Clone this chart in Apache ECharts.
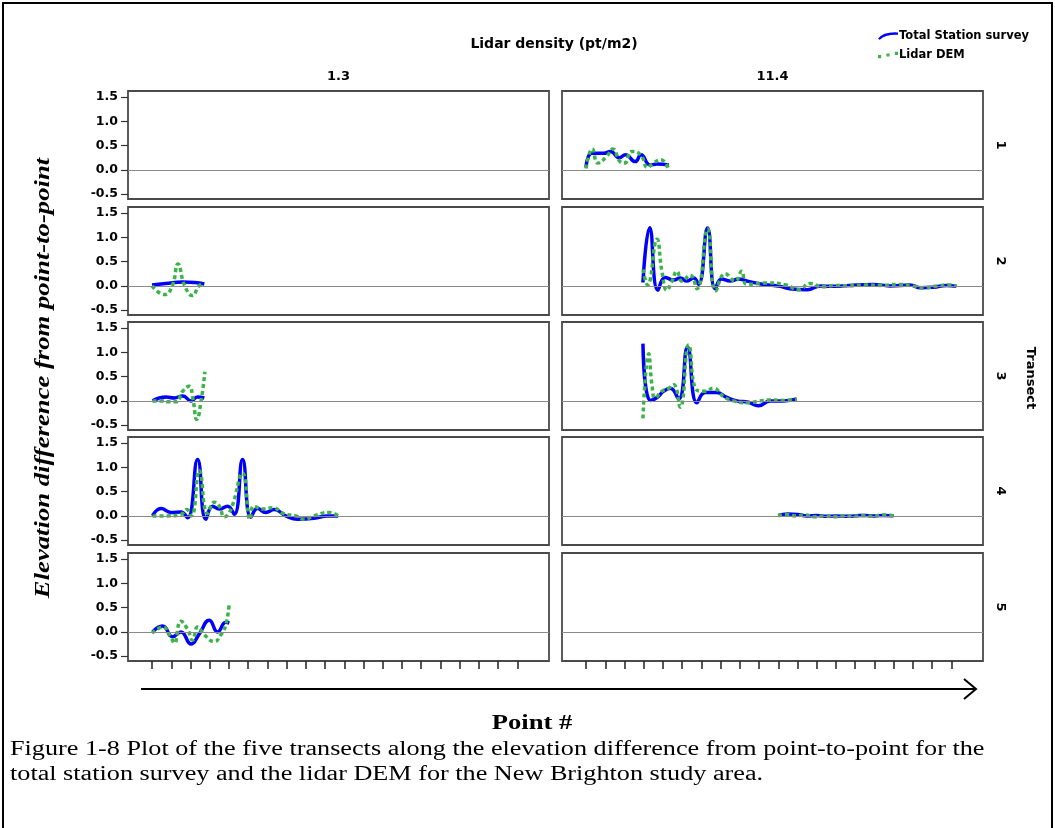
<!DOCTYPE html>
<html>
<head>
<meta charset="utf-8">
<script src="https://cdn.jsdelivr.net/npm/echarts@6/dist/echarts.min.js"></script>
<style>
  html, body { margin: 0; padding: 0; background: #fff; }
  #chart { width: 1055px; height: 828px; }
</style>
</head>
<body>
<div id="chart"></div>
<script>
// x = point position in tick units (one unit per axis tick), y = elevation difference
const densities = ['1.3', '11.4']
const transects = ['1', '2', '3', '4', '5']
const yTicks = [-0.5, 0, 0.5, 1.0, 1.5]
const xTicks = [0, 1, 2, 3, 4, 5, 6, 7, 8, 9, 10, 11, 12, 13, 14, 15, 16, 17, 18, 19]

// transect 1
const station_t1_114 = [[0, 0.05], [0.31, 0.34], [0.92, 0.34], [1.27, 0.38], [1.73, 0.25], [2.05, 0.31], [2.56, 0.17], [2.86, 0.31], [3.34, 0.10], [3.69, 0.12], [4.3, 0.10]]
const dem_t1_114 = [[0, 0.03], [0.33, 0.43], [0.62, 0.14], [1.06, 0.27], [1.4, 0.43], [1.75, 0.18], [2.0, 0.14], [2.37, 0.38], [2.84, 0.31], [3.2, 0.05], [3.5, 0.14], [3.9, 0.21], [4.3, 0.0]]

// transect 2
const station_t2_13 = [[0, 0.02], [0.7, 0.05], [1.6, 0.08], [2.2, 0.07], [2.72, 0.04]]
const dem_t2_13 = [[0, 0.0], [0.65, -0.18], [1.05, 0.0], [1.35, 0.45], [1.7, 0.0], [2.1, -0.2], [2.45, 0.0], [2.72, 0.05]]
const station_t2_114 = [[2.96, 0.07], [3.31, 1.2], [3.74, -0.09], [4.12, 0.17], [4.56, 0.12], [4.9, 0.16], [5.25, 0.1], [5.6, 0.16], [5.85, 0.03], [6.32, 1.19], [6.72, -0.06], [7.06, 0.14], [7.5, 0.1], [7.93, 0.14], [8.36, 0.1], [9.23, 0.03], [10.1, -0.01], [10.6, -0.06], [11.5, -0.08], [12.2, 0.0], [12.7, -0.01], [13.4, 0.0], [14.95, 0.03], [15.8, 0.0], [16.85, 0.02], [17.4, -0.04], [18.06, -0.03], [18.75, 0.01], [19.27, -0.01]]
const dem_t2_114 = [[2.96, 0.34], [3.2, 0.02], [3.69, 0.96], [3.95, 0.3], [4.21, -0.09], [4.47, 0.1], [4.73, 0.3], [4.99, 0.1], [5.42, 0.22], [5.77, -0.06], [6.32, 1.17], [6.75, -0.1], [7.24, 0.25], [7.76, 0.1], [8.1, 0.3], [8.36, 0.03], [9.4, 0.06], [10.4, 0.02], [11.05, -0.08], [11.66, 0.05], [12.3, -0.02], [13.0, 0.01], [13.6, 0.0], [14.5, 0.02], [15.3, 0.01], [16.2, 0.03], [17.0, 0.0], [17.6, -0.04], [18.3, 0.0], [18.9, 0.02], [19.27, 0.0]]

// transect 3
const station_t3_13 = [[0.03, 0], [0.73, 0.08], [1.16, 0.06], [1.6, 0.1], [2.03, 0.0], [2.37, 0.08], [2.72, 0.06]]
const dem_t3_13 = [[0.03, 0], [0.56, 0.0], [0.81, -0.02], [1.25, -0.02], [1.6, 0.2], [1.94, 0.3], [2.11, 0.08], [2.33, -0.38], [2.57, 0.05], [2.75, 0.6]]
const station_t3_114 = [[2.96, 1.18], [3.34, 0.01], [3.69, 0.07], [4.04, 0.2], [4.38, 0.26], [4.82, 0.04], [5.28, 1.11], [5.77, -0.04], [6.2, 0.17], [6.8, 0.17], [7.33, 0.07], [7.84, 0.0], [8.45, -0.03], [8.97, -0.1], [9.58, 0.0], [10.27, 0.0], [10.96, 0.04]]
const dem_t3_114 = [[2.96, -0.36], [3.26, 0.97], [3.43, 0.33], [3.6, 0.06], [3.95, 0.2], [4.3, 0.26], [4.56, 0.33], [4.9, -0.13], [5.34, 1.15], [5.77, 0.22], [6.2, 0.2], [6.63, 0.26], [7.15, 0.09], [7.67, 0.0], [8.36, -0.04], [9.06, 0.0], [9.6, 0.02], [10.3, 0.01], [10.96, 0.04]]

// transect 4
const station_t4_13 = [[0.03, 0], [0.47, 0.15], [0.99, 0.07], [1.5, 0.08], [1.85, -0.04], [2.37, 1.16], [2.8, -0.07], [3.15, 0.2], [3.5, 0.14], [3.93, 0.2], [4.28, 0.03], [4.71, 1.16], [5.14, -0.03], [5.49, 0.15], [5.92, 0.07], [6.35, 0.13], [6.96, 0.0], [7.57, -0.07], [8.43, -0.05], [9.12, 0.0], [9.68, 0.0]]
const dem_t4_13 = [[0.03, 0], [0.8, 0.0], [1.5, 0.03], [1.8, 0.13], [2.05, 0.0], [2.46, 0.93], [2.89, 0.05], [3.24, 0.28], [3.5, 0.2], [3.76, -0.02], [4.1, 0.13], [4.71, 0.88], [5.1, -0.07], [5.3, 0.2], [5.75, 0.14], [6.27, 0.17], [6.87, 0.04], [7.48, 0.0], [7.91, -0.07], [8.43, 0.0], [9.2, 0.07], [9.68, 0.0]]
const station_t4_114 = [[10.0, 0.01], [10.5, 0.04], [11.0, 0.03], [11.5, 0.0], [12.0, 0.01], [12.5, -0.01], [13.0, 0.0], [13.5, -0.01], [14.0, 0.0], [14.5, 0.01], [15.0, 0.0], [15.5, 0.01], [16.0, 0.0]]
const dem_t4_114 = [[10.0, 0.0], [10.4, 0.03], [10.9, 0.0], [11.4, 0.02], [11.9, -0.02], [12.4, 0.0], [12.9, -0.02], [13.4, 0.0], [13.9, -0.01], [14.4, 0.01], [14.9, -0.01], [15.4, 0.02], [16.0, 0.0]]

// transect 5
const station_t5_13 = [[0.03, 0.0], [0.55, 0.12], [1.07, -0.1], [1.5, 0.0], [2.03, -0.25], [2.46, -0.04], [2.98, 0.24], [3.41, 0.0], [3.84, 0.2], [4.02, 0.18]]
const dem_t5_13 = [[0.0, -0.03], [0.55, 0.1], [1.0, -0.13], [1.16, -0.23], [1.5, 0.22], [1.85, 0.05], [2.11, -0.17], [2.37, 0.1], [2.72, -0.06], [3.24, -0.2], [3.58, -0.06], [3.84, 0.15], [4.02, 0.6]]

// rows = transects, columns = densities
const stationByPanel = [
  [[], station_t1_114],
  [station_t2_13, station_t2_114],
  [station_t3_13, station_t3_114],
  [station_t4_13, station_t4_114],
  [station_t5_13, []]
]
const demByPanel = [
  [[], dem_t1_114],
  [dem_t2_13, dem_t2_114],
  [dem_t3_13, dem_t3_114],
  [dem_t4_13, dem_t4_114],
  [dem_t5_13, []]
]

const colLeft = [128, 562]
const colWidth = 421
const rowTop = [91, 207, 322, 437, 553]
const rowHeight = 108

const sansBold = 'bold 13px DejaVu Sans, Liberation Sans'

const chart = echarts.init(document.getElementById('chart'))

const grids = []
const xAxes = []
const yAxes = []
const series = []
const graphics = []

transects.forEach((t, r) => {
  densities.forEach((d, c) => {
    const idx = grids.length
    const isBottom = r === transects.length - 1
    grids.push({
      left: colLeft[c],
      top: rowTop[r],
      width: colWidth,
      height: rowHeight,
      show: true,
      borderColor: '#4a4a4a',
      borderWidth: 1.8
    })
    xAxes.push({
      gridIndex: idx,
      type: 'value',
      min: -1.25,
      max: 20.65,
      axisLine: { show: false, onZero: false },
      splitLine: { show: false },
      axisLabel: { show: false },
      axisTick: {
        show: isBottom,
        customValues: xTicks,
        length: 8,
        lineStyle: { color: '#222', width: 1.5 }
      }
    })
    yAxes.push({
      gridIndex: idx,
      type: 'value',
      min: -0.6,
      max: 1.625,
      axisLine: { show: false, onZero: false },
      splitLine: { show: false },
      axisTick: {
        show: c === 0,
        customValues: yTicks,
        length: 7,
        lineStyle: { color: '#333', width: 1.2 }
      },
      axisLabel: {
        show: c === 0,
        customValues: yTicks,
        margin: 10,
        formatter: v => v.toFixed(1),
        fontFamily: 'DejaVu Sans',
        fontWeight: 'bold',
        fontSize: 12.5,
        color: '#000'
      }
    })
    // zero reference line
    series.push({
      type: 'line',
      xAxisIndex: idx,
      yAxisIndex: idx,
      data: [],
      silent: true,
      markLine: {
        silent: true,
        symbol: 'none',
        label: { show: false },
        lineStyle: { color: '#8a8a8a', width: 1, type: 'solid' },
        data: [{ yAxis: 0 }]
      }
    })
    series.push({
      name: 'Total Station survey',
      type: 'line',
      xAxisIndex: idx,
      yAxisIndex: idx,
      data: stationByPanel[r][c],
      smooth: 0.5,
      symbol: 'none',
      lineStyle: { color: '#0000ff', width: 3.5 },
      itemStyle: { color: '#0000ff' }
    })
    series.push({
      name: 'Lidar DEM',
      type: 'line',
      xAxisIndex: idx,
      yAxisIndex: idx,
      data: demByPanel[r][c],
      smooth: 0.5,
      symbol: 'none',
      lineStyle: { color: '#3cb44a', width: 3.5, type: [4, 3] },
      itemStyle: { color: '#3cb44a' }
    })
  })
  // transect label on the right
  graphics.push({
    type: 'text',
    x: 1000,
    y: rowTop[r] + rowHeight / 2,
    rotation: -Math.PI / 2,
    style: {
      text: t,
      font: sansBold,
      fill: '#000',
      align: 'center',
      verticalAlign: 'middle'
    }
  })
})

densities.forEach((d, c) => {
  graphics.push({
    type: 'text',
    x: colLeft[c] + colWidth / 2,
    y: 77,
    style: {
      text: d,
      font: sansBold,
      fill: '#000',
      align: 'center',
      verticalAlign: 'middle'
    }
  })
})

graphics.push(
  {
    type: 'rect',
    shape: { x: 3, y: 3, width: 1049, height: 850 },
    style: { fill: 'none', stroke: '#000', lineWidth: 2 }
  },
  {
    type: 'text',
    x: 554,
    y: 44,
    style: {
      text: 'Lidar density (pt/m2)',
      font: 'bold 14px DejaVu Sans, Liberation Sans',
      fill: '#000',
      align: 'center',
      verticalAlign: 'middle'
    }
  },
  {
    type: 'text',
    x: 1030,
    y: 378,
    rotation: -Math.PI / 2,
    style: {
      text: 'Transect',
      font: sansBold,
      fill: '#000',
      align: 'center',
      verticalAlign: 'middle'
    }
  },
  {
    type: 'text',
    x: 44,
    y: 378,
    rotation: Math.PI / 2,
    scaleX: 1.27,
    style: {
      text: 'Elevation difference from point-to-point',
      font: 'italic bold 21px Liberation Serif, Times New Roman',
      fill: '#000',
      align: 'center',
      verticalAlign: 'middle'
    }
  },
  {
    type: 'line',
    shape: { x1: 141, y1: 689, x2: 975, y2: 689 },
    style: { stroke: '#000', lineWidth: 2 }
  },
  {
    type: 'polyline',
    shape: { points: [[964, 679], [976, 689], [964, 699]] },
    style: { stroke: '#000', lineWidth: 2, fill: 'none' }
  },
  {
    type: 'text',
    x: 532,
    y: 724,
    scaleX: 1.33,
    style: {
      text: 'Point #',
      font: 'bold 20px Liberation Serif, Times New Roman',
      fill: '#000',
      align: 'center',
      verticalAlign: 'middle'
    }
  },
  {
    type: 'text',
    x: 10,
    y: 737,
    scaleX: 1.31,
    style: {
      text: 'Figure 1-8 Plot of the five transects along the elevation difference from point-to-point for the\ntotal station survey and the lidar DEM for the New Brighton study area.',
      font: '20px Liberation Serif, Times New Roman',
      lineHeight: 25,
      fill: '#000',
      align: 'left',
      verticalAlign: 'top'
    }
  }
)

chart.setOption({
  animation: false,
  backgroundColor: '#fff',
  legend: {
    data: [
      { name: 'Total Station survey', icon: 'path://M0,9 Q6,1 22,2 L22,4.5 Q8,4 2,10 Z' },
      { name: 'Lidar DEM', icon: 'path://M0,7 h3 v3 h-3 Z M8,5.5 h3 v3 h-3 Z M16,4 h3 v3 h-3 Z' }
    ],
    orient: 'vertical',
    left: 878,
    top: 30,
    itemWidth: 20,
    itemHeight: 9,
    itemGap: 7,
    padding: 0,
    textStyle: {
      fontFamily: 'DejaVu Sans',
      fontWeight: 'bold',
      fontSize: 11.5,
      color: '#000',
      padding: [0, 0, 0, -4]
    }
  },
  grid: grids,
  xAxis: xAxes,
  yAxis: yAxes,
  series: series,
  graphic: graphics
})
</script>
</body>
</html>
